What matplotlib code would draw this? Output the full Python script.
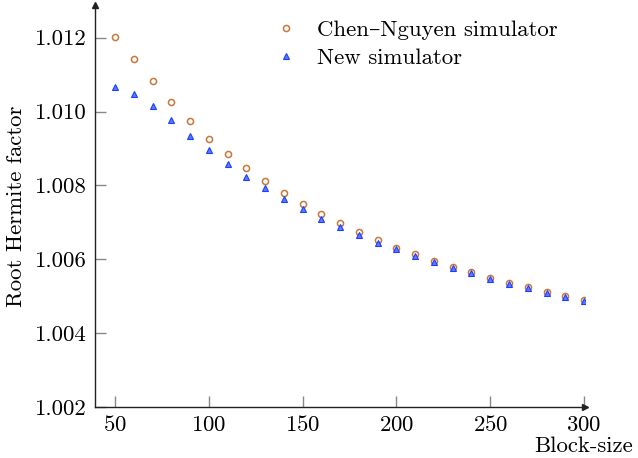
import matplotlib.pyplot as plt

plt.rcParams['font.family'] = ['cmr10', 'DejaVu Serif']
plt.rcParams['mathtext.fontset'] = 'cm'
plt.rcParams['axes.formatter.use_mathtext'] = True

block_size = [50, 60, 70, 80, 90, 100, 110, 120, 130, 140, 150, 160, 170, 180,
              190, 200, 210, 220, 230, 240, 250, 260, 270, 280, 290, 300]

chen_nguyen = [1.01203, 1.01142, 1.01082, 1.01025, 1.00974, 1.00927, 1.00885,
               1.00846, 1.00811, 1.00779, 1.00749, 1.00722, 1.00697, 1.00674,
               1.00652, 1.00631, 1.00613, 1.00596, 1.00580, 1.00565, 1.00550,
               1.00536, 1.00524, 1.00511, 1.00500, 1.00490]

new_sim = [1.01066, 1.01047, 1.01015, 1.00976, 1.00934, 1.00896, 1.00858,
           1.00824, 1.00792, 1.00763, 1.00735, 1.00710, 1.00687, 1.00665,
           1.00645, 1.00627, 1.00609, 1.00592, 1.00576, 1.00562, 1.00547,
           1.00534, 1.00521, 1.00509, 1.00498, 1.00487]

x_ticks = [50, 100, 150, 200, 250, 300]
y_ticks = [1.002, 1.004, 1.006, 1.008, 1.010, 1.012]
y_labels = ['1.002', '1.004', '1.006', '1.008', '1.010', '1.012']

fs = 16.4

fig = plt.figure(figsize=(6.38, 4.58), dpi=100)
ax = fig.add_axes([0.1489, 0.1114, 0.768, 0.878])

ax.plot(block_size, chen_nguyen, linestyle='none', marker='o', markersize=4.4,
        markerfacecolor='white', markeredgecolor='#c8783a', markeredgewidth=1.1,
        label='Chen–Nguyen simulator')
ax.plot(block_size, new_sim, linestyle='none', marker='^', markersize=4.2,
        markerfacecolor='#5a7dff', markeredgecolor='#1f3cff', markeredgewidth=0.8,
        label='New simulator')

ax.set_xlim(39.3, 300.5)
ax.set_ylim(1.002, 1.01289)

for side in ['top', 'right']:
    ax.spines[side].set_visible(False)
for side in ['left', 'bottom']:
    ax.spines[side].set_color('#222222')
    ax.spines[side].set_linewidth(1.0)

# arrow heads at axis ends
ax.plot(1, 0, '>', color='#222222', markersize=5, transform=ax.transAxes, clip_on=False)
ax.plot(0, 1, '^', color='#222222', markersize=5, transform=ax.transAxes, clip_on=False)

ax.set_xticks(x_ticks)
ax.set_yticks(y_ticks)
ax.set_yticklabels(y_labels)
ax.tick_params(direction='in', length=8, width=1.0, color='#888888',
               labelsize=fs, pad=6)

ax.set_ylabel('Root Hermite factor', fontsize=fs, labelpad=6)
ax.text(1.098, -0.112, 'Block-size', transform=ax.transAxes, fontsize=fs,
        ha='right', va='baseline')

ax.legend(loc='upper left', bbox_to_anchor=(0.375, 0.963), frameon=False,
          fontsize=fs, handlelength=0.6, handletextpad=1.1,
          labelspacing=0.37, borderaxespad=0, borderpad=0)

fig.savefig('out.png', dpi=100)
